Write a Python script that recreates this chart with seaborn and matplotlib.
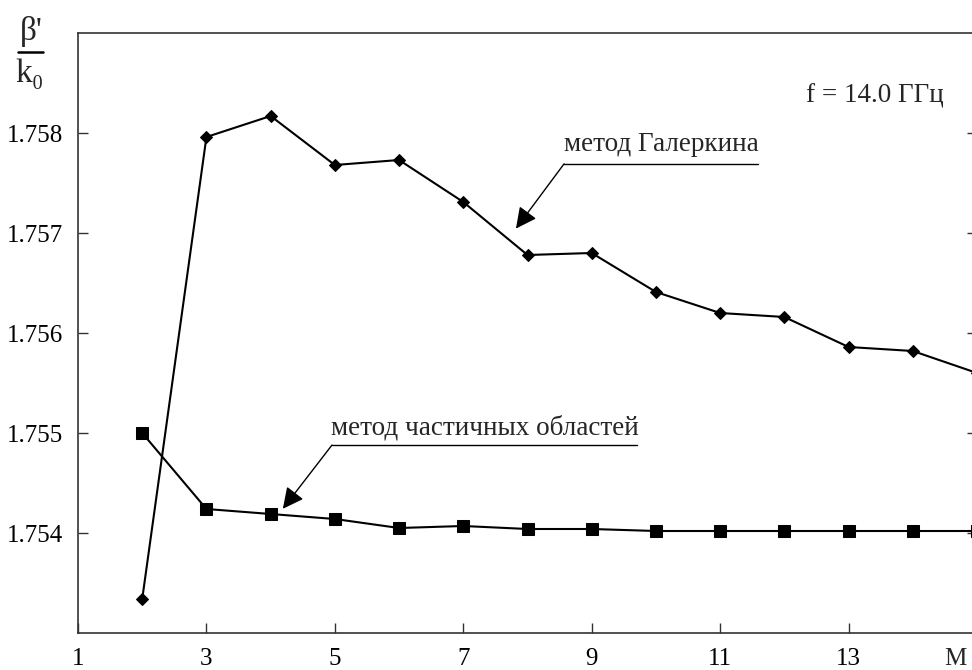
import numpy as np
import pandas as pd
import matplotlib
matplotlib.use("Agg")
import matplotlib.pyplot as plt
from matplotlib.lines import Line2D
import seaborn as sns

sns.set_style("ticks")
plt.rcParams['font.family'] = ['Liberation Serif', 'DejaVu Serif']
plt.rcParams['mathtext.fontset'] = 'stix'

# data
M = [2, 3, 4, 5, 6, 7, 8, 9, 10, 11, 12, 13, 14, 15]
galerkin = [1.75334, 1.75796, 1.75817, 1.75768, 1.75773, 1.75731, 1.75678,
            1.75680, 1.75641, 1.75620, 1.75616, 1.75586, 1.75582, 1.75560]
partial = [1.75500, 1.75424, 1.75419, 1.75414, 1.75405, 1.75407, 1.75404,
           1.75404, 1.75402, 1.75402, 1.75402, 1.75402, 1.75402, 1.75402]
x_ticks = [1, 3, 5, 7, 9, 11, 13]
y_ticks = [1.754, 1.755, 1.756, 1.757, 1.758]

df = pd.DataFrame({'M': M, 'galerkin': galerkin, 'partial': partial})

fig = plt.figure(figsize=(9.72, 6.70), dpi=100)
ax = fig.add_axes([78/972, 37/670, 899/972, 600/670])

sns.lineplot(data=df, x='M', y='galerkin', ax=ax, color='k', linewidth=1.5,
             marker='D', markersize=6.5, markeredgecolor='k', markerfacecolor='k')
sns.lineplot(data=df, x='M', y='partial', ax=ax, color='k', linewidth=1.5,
             marker='s', markersize=8.5, markeredgecolor='k', markerfacecolor='k')

ax.set_xlim(1, 15)
ax.set_ylim(1.753, 1.759)
ax.set_xticks(x_ticks)
ax.set_xticklabels([str(t) for t in x_ticks])
ax.set_yticks(y_ticks)
ax.set_yticklabels([f"{t:.3f}" for t in y_ticks])
ax.set_xlabel('')
ax.set_ylabel('')
ax.tick_params(axis='both', direction='in', length=7, width=1, colors='#333333',
               labelsize=18, labelcolor='k', pad=11)
ax.tick_params(axis='y', right=True)
for s in ax.spines.values():
    s.set_visible(True)
    s.set_color('#333333')
    s.set_linewidth(1.2)

# "M" label at the right end of the x axis
ax.text(14.66, -0.025, 'M', transform=ax.get_xaxis_transform(),
        ha='center', va='top', fontsize=18)

# y label as a fraction beta'/k0
fig.text(31/972, 1 - 40/670, "β'", ha='center', va='baseline', fontsize=24)
fig.text(30/972, 1 - 82/670, "k₀", ha='center', va='baseline', fontsize=24)
fig.add_artist(Line2D([18/972, 43/972], [1 - 52/670, 1 - 52/670],
                      color='k', linewidth=1.8, transform=fig.transFigure))

# frequency label
ax.text(13.41, 1.75830, 'f = 14.0 ГГц', ha='center', va='baseline', fontsize=19.5)

# annotations
ax.text(10.08, 1.75782, 'метод Галеркина', ha='center', va='baseline', fontsize=19.5)
ax.plot([8.57, 11.59], [1.757692, 1.757692], color='k', linewidth=1)
ax.annotate('', xy=(7.82, 1.757044), xytext=(8.57, 1.757692),
            arrowprops=dict(arrowstyle='-|>', color='k', lw=1,
                            mutation_scale=32, shrinkA=0, shrinkB=0))

ax.text(7.33, 1.75499, 'метод частичных областей', ha='center', va='baseline', fontsize=19.5)
ax.plot([4.956, 9.706], [1.75488, 1.75488], color='k', linewidth=1)
ax.annotate('', xy=(4.19, 1.754242), xytext=(4.956, 1.75488),
            arrowprops=dict(arrowstyle='-|>', color='k', lw=1,
                            mutation_scale=32, shrinkA=0, shrinkB=0))

fig.savefig('out.png', dpi=100)
